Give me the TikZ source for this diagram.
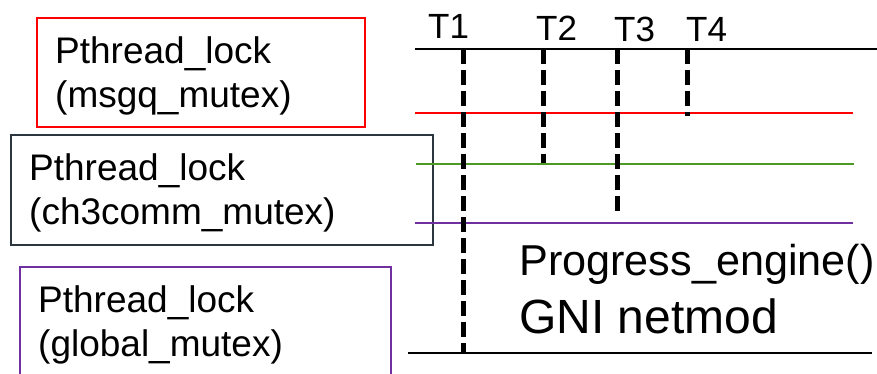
\documentclass[tikz,border=0pt]{standalone}
\usepackage{fontspec}
\setmainfont{Liberation Sans}
\definecolor{lockred}{RGB}{255,0,0}
\definecolor{lockdark}{RGB}{44,54,62}
\definecolor{lockpurple}{RGB}{112,48,160}
\definecolor{lockgreen}{RGB}{78,154,38}
\tikzset{
  lockbox/.style={draw, line width=2pt, inner sep=0pt, anchor=north west},
  boxtext/.style={inner sep=0pt, anchor=base west, font=\fontsize{37}{44}\selectfont},
  tlabel/.style={inner sep=0pt, anchor=base west, font=\fontsize{35}{42}\selectfont},
  rail/.style={line width=2pt},
  thread/.style={line width=5pt, dash pattern=on 15pt off 6pt},
}
\begin{document}
\begin{tikzpicture}[x=1pt,y=-1pt]
\useasboundingbox (0,0) rectangle (877,373);
\clip (0,0) rectangle (877,373);
\fill[white] (0,0) rectangle (877,373);
% boxes
\node[lockbox, draw=lockred, minimum width=328pt, minimum height=109pt] (bmsgq) at (36,17) {};
\node[lockbox, draw=lockdark, minimum width=422pt, minimum height=110pt] (bch3) at (10,134) {};
\node[lockbox, draw=lockpurple, minimum width=371pt, minimum height=130pt] (bglob) at (19,266) {};
% box texts
\node[boxtext] (msgq1) at (55,63) {Pthread\_lock};
\node[boxtext] (msgq2) at (55,107) {(msgq\_mutex)};
\node[boxtext] (ch31) at (29,180) {Pthread\_lock};
\node[boxtext] (ch32) at (29,224) {(ch3comm\_mutex)};
\node[boxtext] (glob1) at (38,312) {Pthread\_lock};
\node[boxtext] (glob2) at (38,356) {(global\_mutex)};
% rails
\coordinate (topL) at (415,49);
\coordinate (topR) at (877,49);
\coordinate (redL) at (415,113);
\coordinate (redR) at (853,113);
\coordinate (grnL) at (416,164);
\coordinate (grnR) at (854,164);
\coordinate (purL) at (415,223);
\coordinate (purR) at (853,223);
\coordinate (botL) at (408,353);
\coordinate (botR) at (872,353);
\draw[rail, black] (topL) -- (topR);
\draw[rail, lockred] (redL) -- (redR);
\draw[rail, lockgreen] (grnL) -- (grnR);
\draw[rail, lockpurple] (purL) -- (purR);
\draw[rail, black] (botL) -- (botR);
% thread labels
\node[tlabel] (T1) at (428,38) {T1};
\node[tlabel] (T2) at (536,40) {T2};
\node[tlabel] (T3) at (614,41) {T3};
\node[tlabel] (T4) at (686,41) {T4};
% threads
\coordinate (t1s) at (463,49);
\coordinate (t1e) at (463,353);
\coordinate (t2s) at (543,49);
\coordinate (t2e) at (543,163);
\coordinate (t3s) at (617,49);
\coordinate (t3e) at (617,213);
\coordinate (t4s) at (687,49);
\coordinate (t4e) at (687,116);
\draw[thread] (t1s) -- (t1e);
\draw[thread] (t2s) -- (t2e);
\draw[thread] (t3s) -- (t3e);
\draw[thread] (t4s) -- (t4e);
% engine text
\node[inner sep=0pt, anchor=base west, font=\fontsize{43.2}{52}\selectfont] (prog) at (519,275) {Progress\_engine()};
\node[inner sep=0pt, anchor=base west, font=\fontsize{48}{58}\selectfont] (gni) at (519,333) {GNI netmod};
\end{tikzpicture}
\end{document}
